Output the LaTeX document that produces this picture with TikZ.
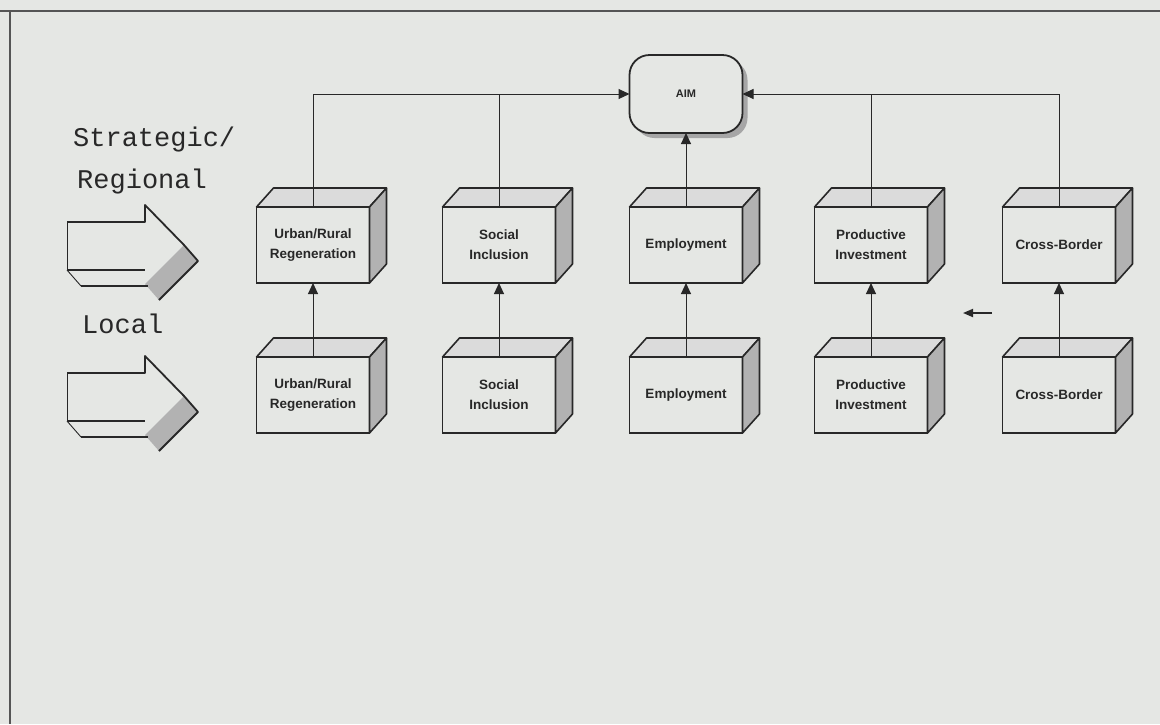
\documentclass[tikz,border=0pt]{standalone}
\usepackage{fontspec}
\setmainfont{Liberation Sans}
\newfontfamily\monofont{Liberation Mono}
\usetikzlibrary{arrows.meta,calc,shadows}
\definecolor{bg}{RGB}{229,231,228}
\definecolor{ink}{RGB}{40,40,40}
\definecolor{frame}{RGB}{85,85,85}
\tikzset{
  frontbox/.style={draw=ink, line width=1.8pt, fill=bg, minimum width=113pt, minimum height=76pt,
    inner sep=0pt, outer sep=0pt, align=center, font=\bfseries\fontsize{13.5}{20}\selectfont, text=ink},
  faceline/.style={draw=ink, line width=1.6pt, line join=round},
  topface/.style={faceline, fill=gray!28},
  sideface/.style={faceline, fill=gray!60},
  conn/.style={draw=ink, line width=1pt},
  tip/.style={-{Triangle[length=11pt,width=10pt]}},
  aimbox/.style={draw=ink, line width=1.8pt, fill=bg, rounded corners=20pt, minimum width=113pt,
    minimum height=78pt, inner sep=0pt, outer sep=0pt, font=\bfseries\fontsize{11}{13}\selectfont, text=ink,
    drop shadow={shadow xshift=5pt, shadow yshift=-5pt, fill=gray!70, opacity=1}},
  sidelabel/.style={font=\monofont\fontsize{27}{30}\selectfont, text=ink, inner sep=0pt, anchor=base west},
  arrowedge/.style={draw=ink, line width=1.8pt, line join=round},
  arrowthin/.style={draw=ink, line width=0.9pt}
}
\newcommand\mycube[4]{%
  \node[frontbox] (#1) at (#2,#3) {#4};
  \draw[topface] (#1.north west) -- ++(17,-19) -- ($(#1.north east)+(17,-19)$) -- (#1.north east) -- cycle;
  \draw[sideface] (#1.north east) -- ++(17,-19) -- ($(#1.south east)+(17,-19)$) -- (#1.south east) -- cycle;
}
\newcommand\bigarrow[1]{%
  \begin{scope}[shift={(0,#1)}]
    \fill[gray!60] (145,284) -- (184,245) -- (198,261) -- (159,300) -- cycle;
    \draw[arrowthin] (67,222) -- (67,270);
    \draw[arrowedge] (67,222) -- (145,222) -- (145,205) -- (184,245) -- (198,261) -- (159,300);
    \draw[arrowedge] (67,270) -- (145,270);
    \draw[arrowthin] (67,270) -- (81,286);
    \draw[arrowedge] (81,286) -- (148,286);
  \end{scope}
}
\begin{document}
\begin{tikzpicture}[x=1pt,y=-1pt]
  \useasboundingbox (0,0) rectangle (1160,724);
  \fill[bg] (0,0) rectangle (1160,724);
  % frame
  \draw[frame, line width=2pt] (0,11) -- (1160,11);
  \draw[frame, line width=2pt] (10,11) -- (10,724);

  % side labels and arrows
  \node[sidelabel] (lstrat) at (73,146) {Strategic/};
  \node[sidelabel] (lreg) at (77,188) {Regional};
  \node[sidelabel] (lloc) at (82,333) {Local};
  \bigarrow{0}
  \bigarrow{151}

  % AIM
  \node[aimbox] (aim) at (686,94) {AIM};

  % top row
  \mycube{u1}{313}{245}{Urban/Rural\\Regeneration}
  \mycube{s1}{499}{245}{Social\\Inclusion}
  \mycube{e1}{686}{245}{Employment}
  \mycube{p1}{871}{245}{Productive\\Investment}
  \mycube{c1}{1059}{245}{Cross-Border}
  % bottom row
  \mycube{u2}{313}{395}{Urban/Rural\\Regeneration}
  \mycube{s2}{499}{395}{Social\\Inclusion}
  \mycube{e2}{686}{395}{Employment}
  \mycube{p2}{871}{395}{Productive\\Investment}
  \mycube{c2}{1059}{395}{Cross-Border}

  % connectors to AIM
  \draw[conn, tip] (u1.north) |- (aim.west);
  \draw[conn] (s1.north) -- (s1.north |- aim.west);
  \draw[conn, tip] (e1.north) -- (aim.south);
  \draw[conn, tip] (c1.north) |- (aim.east);
  \draw[conn] (p1.north) -- (p1.north |- aim.east);

  % connectors between rows
  \draw[conn, tip] (u2.north) -- (u1.south);
  \draw[conn, tip] (s2.north) -- (s2.north |- s1.south);
  \draw[conn, tip] (e2.north) -- (e1.south);
  \draw[conn, tip] (p2.north) -- (p1.south);
  \draw[conn, tip] (c2.north) -- (c1.south);

  % small stray arrow
  \coordinate (sa) at (992,313);
  \coordinate (sb) at (963,313);
  \draw[ink, line width=1.8pt, -{Triangle[length=10pt,width=8pt]}] (sa) -- (sb);
\end{tikzpicture}
\end{document}
